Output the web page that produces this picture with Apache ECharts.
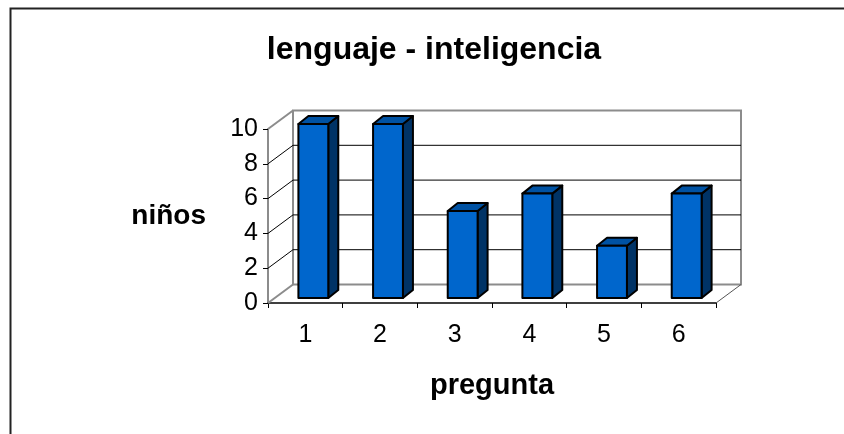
<!DOCTYPE html>
<html>
<head>
<meta charset="utf-8">
<script src="https://cdn.jsdelivr.net/npm/echarts@6/dist/echarts.min.js"></script>
<style>
html,body{margin:0;padding:0;background:#fff;}
#chart{width:844px;height:434px;}
</style>
</head>
<body>
<div id="chart"></div>
<script>
const categories = ['1', '2', '3', '4', '5', '6'];
const values = [10, 10, 5, 6, 3, 6];
const yTicks = [0, 2, 4, 6, 8, 10];
const titleText = 'lenguaje - inteligencia';
const xName = 'pregunta';
const yName = 'niños';

// 3D styling constants
const WALL_DX = 25, WALL_DY = -18.5;   // depth of the walls
const BAR_OX = 8, BAR_OY = -5;         // bar plane offset from front plane
const BAR_DX = 10, BAR_DY = -8;        // bar depth
const FONT = '"Liberation Sans", Arial, sans-serif';

const chart = echarts.init(document.getElementById('chart'));

function wallsItem(params, api) {
  const cs = params.coordSys;
  const xl = cs.x, xr = cs.x + cs.width;
  const children = [];
  const p0 = api.coord([0, 0]);
  const p10 = api.coord([0, yTicks[yTicks.length - 1]]);
  children.push({
    type: 'rect',
    shape: { x: xl + WALL_DX, y: p10[1] + WALL_DY, width: cs.width, height: p0[1] - p10[1] },
    style: { fill: '#fff', stroke: '#8c8c8c', lineWidth: 2 },
    z2: 1
  });
  yTicks.forEach(function (v) {
    const p = api.coord([0, v]);
    const edge = (v === 0 || v === yTicks[yTicks.length - 1]);
    const col = edge ? '#8c8c8c' : '#000';
    const lw = edge ? 2 : 1;
    children.push({
      type: 'line',
      shape: { x1: xl, y1: p[1], x2: xl + WALL_DX, y2: p[1] + WALL_DY },
      style: { stroke: col, lineWidth: lw },
      z2: 2
    });
    if (!edge) {
      children.push({
        type: 'line',
        shape: { x1: xl + WALL_DX, y1: p[1] + WALL_DY, x2: xr + WALL_DX, y2: p[1] + WALL_DY },
        style: { stroke: '#000', lineWidth: 1 },
        z2: 2
      });
    }
  });
  children.push({
    type: 'line',
    shape: { x1: xr, y1: p0[1], x2: xr + WALL_DX, y2: p0[1] + WALL_DY },
    style: { stroke: '#555', lineWidth: 1 },
    z2: 2
  });
  return { type: 'group', children: children };
}

function barItem(params, api) {
  const idx = api.value(0);
  const v = api.value(1);
  const base = api.coord([idx, 0]);
  const top = api.coord([idx, v]);
  const bw = api.size([1, 0])[0] * 0.4;
  const x0 = base[0] - bw / 2 + BAR_OX;
  const x1 = x0 + bw;
  const yb = base[1] + BAR_OY;
  const yt = top[1] + BAR_OY;
  const stroke = { stroke: '#000', lineWidth: 2, lineJoin: 'round' };
  return {
    type: 'group',
    children: [
      { type: 'polygon', shape: { points: [[x1, yt], [x1 + BAR_DX, yt + BAR_DY], [x1 + BAR_DX, yb + BAR_DY], [x1, yb]] },
        style: Object.assign({ fill: '#003366' }, stroke) },
      { type: 'polygon', shape: { points: [[x0, yt], [x0 + BAR_DX, yt + BAR_DY], [x1 + BAR_DX, yt + BAR_DY], [x1, yt]] },
        style: Object.assign({ fill: '#0052A3' }, stroke) },
      { type: 'rect', shape: { x: x0, y: yt, width: bw, height: yb - yt },
        style: Object.assign({ fill: '#0066CC' }, stroke) }
    ]
  };
}

chart.setOption({
  animation: false,
  backgroundColor: '#fff',
  title: {
    text: titleText,
    left: 429, top: 29, textAlign: 'center',
    textStyle: { fontFamily: FONT, fontSize: 32, fontWeight: 'bold', color: '#000' }
  },
  grid: { left: 268, right: 128, top: 129, bottom: 131 },
  xAxis: {
    type: 'category',
    data: categories,
    boundaryGap: true,
    name: xName,
    nameLocation: 'middle',
    nameGap: 68,
    nameTextStyle: { fontFamily: FONT, fontSize: 29, fontWeight: 'bold', color: '#000' },
    axisLine: { lineStyle: { color: '#000', width: 1.5 } },
    axisTick: { show: true, length: 5, lineStyle: { color: '#000' } },
    axisLabel: { fontFamily: FONT, fontSize: 25, color: '#000', margin: 20 },
    splitLine: { show: false }
  },
  yAxis: {
    type: 'value',
    min: 0, max: 10, interval: 2,
    name: yName,
    nameLocation: 'middle',
    nameRotate: 0,
    nameGap: 62,
    nameTextStyle: { fontFamily: FONT, fontSize: 28, fontWeight: 'bold', color: '#000', align: 'right', verticalAlign: 'middle' },
    axisLine: { show: true, lineStyle: { color: '#8c8c8c', width: 2 } },
    axisTick: { show: true, length: 5, lineStyle: { color: '#000' } },
    axisLabel: { fontFamily: FONT, fontSize: 25, color: '#000', margin: 10 },
    splitLine: { show: false }
  },
  graphic: [
    { type: 'polyline', shape: { points: [[10.5, 434], [10.5, 8.5], [844, 8.5]] },
      style: { stroke: '#222', lineWidth: 2, fill: null }, silent: true }
  ],
  series: [
    {
      type: 'custom', name: 'walls', z: 1,
      renderItem: wallsItem,
      data: [[0, 0]],
      silent: true
    },
    {
      type: 'custom', name: 'niños', z: 3,
      renderItem: barItem,
      encode: { x: 0, y: 1 },
      data: values.map(function (v, i) { return [i, v]; })
    }
  ]
});
</script>
</body>
</html>
